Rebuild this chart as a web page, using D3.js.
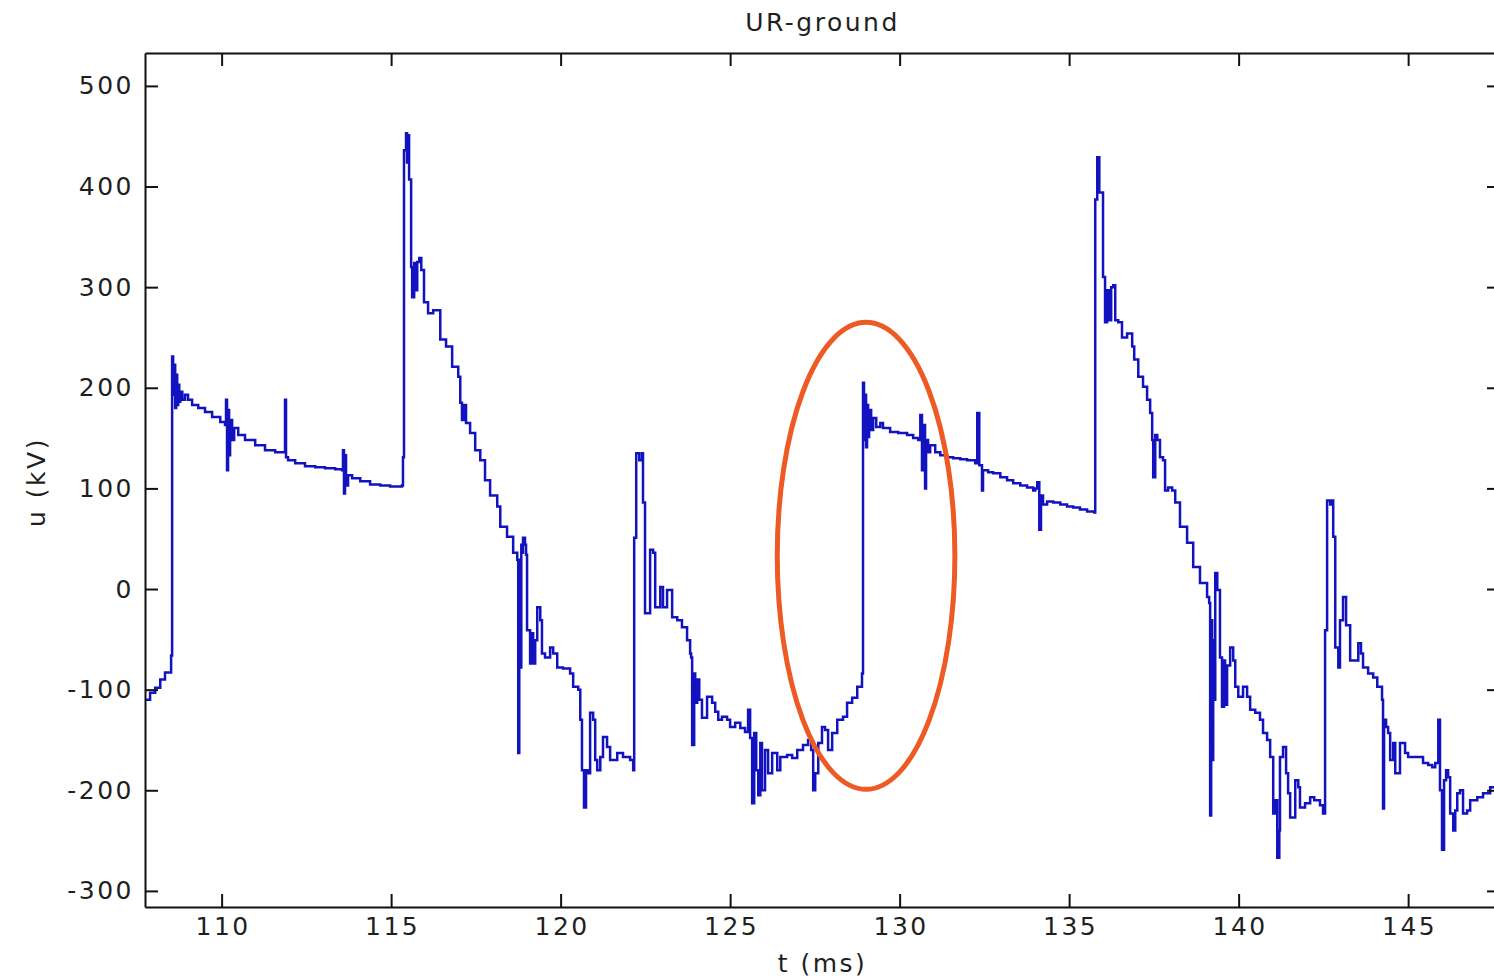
<!DOCTYPE html>
<html>
<head>
<meta charset="utf-8">
<script src="https://cdn.jsdelivr.net/npm/d3@7"></script>
<style>
  html, body { margin: 0; padding: 0; background: #fff; }
  svg { display: block; }
  text { font-family: "DejaVu Sans", sans-serif; fill: #1f1f1f; letter-spacing: 2.5px; }
</style>
</head>
<body>
<svg id="chart" width="1494" height="979"></svg>
<script>
// Phase-to-ground voltage of phase R, sampled trace
const tMs = [
  107.74,107.89,108.04,108.19,108.33,108.51,108.54,108.57,108.60,108.63,108.66,108.69,108.72,108.75,108.78,108.84,108.92,109.01,109.13,109.31,
  109.51,109.72,109.96,110.10,110.13,110.16,110.19,110.22,110.25,110.31,110.37,110.49,110.69,110.99,111.28,111.58,111.81,111.87,111.90,111.96,
  112.17,112.46,112.76,113.05,113.35,113.55,113.58,113.61,113.64,113.67,113.73,113.85,114.09,114.38,114.68,114.97,115.32,115.35,115.38,115.44,
  115.47,115.50,115.53,115.59,115.62,115.68,115.71,115.77,115.83,115.89,115.97,116.09,116.24,116.45,116.62,116.80,116.98,117.04,117.09,117.15,
  117.21,117.33,117.48,117.63,117.77,117.92,118.13,118.22,118.42,118.60,118.72,118.75,118.78,118.81,118.84,118.86,118.89,118.95,118.98,119.01,
  119.10,119.13,119.19,119.25,119.31,119.40,119.45,119.54,119.69,119.78,119.90,120.07,120.28,120.37,120.52,120.58,120.63,120.69,120.75,120.81,
  120.87,120.96,121.02,121.08,121.17,121.25,121.37,121.46,121.67,121.84,122.05,122.14,122.17,122.23,122.32,122.40,122.43,122.49,122.64,122.73,
  122.79,122.94,123.02,123.14,123.29,123.44,123.58,123.73,123.82,123.85,123.88,123.94,123.97,124.03,124.09,124.17,124.32,124.47,124.56,124.65,
  124.76,124.91,125.00,125.15,125.30,125.44,125.53,125.59,125.65,125.71,125.77,125.83,125.89,125.94,126.03,126.12,126.24,126.39,126.48,126.68,
  126.83,126.98,127.15,127.30,127.39,127.45,127.51,127.60,127.71,127.80,127.89,128.01,128.16,128.33,128.45,128.60,128.75,128.89,128.92,128.95,
  128.98,129.01,129.04,129.07,129.10,129.16,129.22,129.31,129.43,129.51,129.72,129.96,130.22,130.40,130.55,130.61,130.66,130.69,130.75,130.78,
  130.84,130.90,131.05,131.20,131.40,131.58,131.79,131.99,132.23,132.29,132.35,132.43,132.46,132.61,132.76,132.97,133.17,133.35,133.56,133.76,
  133.94,134.00,134.06,134.12,134.17,134.23,134.35,134.53,134.74,134.94,135.12,135.32,135.53,135.74,135.77,135.83,135.89,136.00,136.06,136.12,
  136.18,136.24,136.30,136.36,136.45,136.56,136.71,136.86,136.92,137.04,137.18,137.30,137.39,137.45,137.48,137.54,137.60,137.68,137.77,137.83,
  137.92,138.04,138.13,138.27,138.48,138.66,138.86,139.07,139.13,139.16,139.19,139.22,139.25,139.28,139.31,139.37,139.45,139.51,139.57,139.60,
  139.66,139.75,139.84,139.90,139.99,140.13,140.25,140.34,140.49,140.63,140.72,140.84,140.93,141.02,141.08,141.14,141.20,141.22,141.31,141.40,
  141.46,141.52,141.67,141.76,141.81,141.96,142.11,142.23,142.40,142.49,142.55,142.61,142.70,142.76,142.79,142.85,142.94,142.99,143.08,143.17,
  143.29,143.53,143.61,143.67,143.82,143.97,144.09,144.23,144.26,144.29,144.35,144.41,144.47,144.56,144.62,144.76,144.91,145.00,145.30,145.44,
  145.59,145.71,145.80,145.89,145.94,146.00,146.06,146.12,146.18,146.24,146.33,146.39,146.45,146.53,146.62,146.74,146.83,147.04,147.21,147.42,
  147.71
];
const uKv = [
  -110,-103,-98,-90,-83,-66,231,193,223,180,213,183,203,186,196,188,193,188,183,180,
  176,171,166,163,188,118,178,133,168,148,160,153,148,143,138,136,136,188,131,128,
  125,122,121,120,119,118,138,95,133,103,113,110,107,104,103,102,103,131,436,453,
  424,451,407,320,290,324,297,325,329,317,285,274,277,248,241,221,211,185,168,183,
  165,155,138,128,108,93,82,62,52,36,29,-163,29,-78,44,36,51,44,34,-41,
  -74,-44,-74,-51,-18,-31,-64,-68,-58,-64,-78,-79,-84,-97,-100,-130,-180,-217,-180,-183,
  -123,-130,-170,-180,-167,-147,-157,-170,-163,-167,-170,-180,51,135,128,135,86,-24,39,36,
  -18,2,-18,-1,-28,-31,-38,-51,-64,-68,-155,-84,-113,-90,-110,-128,-107,-113,-122,-130,
  -127,-130,-137,-133,-138,-142,-120,-148,-213,-143,-180,-205,-153,-200,-160,-183,-163,-180,-167,-165,
  -168,-160,-155,-150,-160,-200,-183,-153,-137,-140,-160,-143,-130,-127,-113,-108,-97,-84,205,148,
  193,141,183,151,178,158,170,161,165,160,156,155,153,150,148,173,118,163,100,148,
  136,143,136,133,131,130,129,128,125,175,123,98,118,116,115,111,108,105,103,101,
  98,100,106,59,93,84,87,86,84,82,81,79,77,76,387,429,394,310,265,297,
  267,300,302,267,265,250,254,241,228,211,201,188,175,148,111,153,148,131,128,98,
  101,98,86,62,46,22,6,-8,-14,-225,-31,-170,-51,-110,16,-1,-68,-117,-71,-115,
  -76,-58,-71,-97,-107,-97,-107,-120,-123,-130,-143,-150,-167,-223,-210,-267,-240,-167,-157,-183,
  -203,-227,-190,-197,-217,-213,-207,-210,-215,-223,-41,88,84,88,52,-58,-78,-31,-8,-36,
  -71,-54,-64,-78,-84,-88,-97,-110,-218,-130,-137,-143,-170,-153,-183,-153,-163,-167,-167,-173,
  -175,-177,-173,-130,-200,-259,-190,-180,-187,-223,-240,-220,-203,-200,-223,-220,-210,-207,-203,-197,
  -190
];

const xTicks = [110, 115, 120, 125, 130, 135, 140, 145];
const yTicks = [-300, -200, -100, 0, 100, 200, 300, 400, 500];

// Highlighted switching instant: ellipse centre / radii in ms and kV
const markCentre = [129.01, 33];
const markRadii = [2.62, 232];

const plot = { left: 145, right: 1500, top: 53, bottom: 907 };
const svg = d3.select("#chart");

const x = d3.scaleLinear().domain([107.74, 147.71]).range([plot.left, plot.right]);
const y = d3.scaleLinear().domain([-316, 532.7]).range([plot.bottom, plot.top]);

svg.append("rect").attr("width", 1494).attr("height", 979).attr("fill", "#fff");

svg.append("clipPath").attr("id", "plotClip")
  .append("rect")
  .attr("x", plot.left).attr("y", plot.top)
  .attr("width", plot.right - plot.left).attr("height", plot.bottom - plot.top);

// Trace
const samples = tMs.map((t, i) => [t, uKv[i]]);
const line = d3.line()
  .x(d => x(d[0]))
  .y(d => y(d[1]))
  .curve(d3.curveStepAfter);

svg.append("path")
  .datum(samples)
  .attr("clip-path", "url(#plotClip)")
  .attr("fill", "none")
  .attr("stroke", "#1212c0")
  .attr("stroke-width", 2.5)
  .attr("stroke-linejoin", "miter")
  .attr("d", line);

// Axes box with inward ticks on all four sides
const tickLen = 13;
const plain = d => String(d);
const styleAxis = g => {
  g.selectAll(".domain").attr("stroke", "#111").attr("stroke-width", 2);
  g.selectAll(".tick line").attr("stroke", "#111").attr("stroke-width", 2);
  g.selectAll(".tick text").style("font-size", "25px").attr("fill", "#1f1f1f");
};

svg.append("g")
  .attr("transform", `translate(0,${plot.bottom})`)
  .call(d3.axisBottom(x).tickValues(xTicks).tickFormat(plain).tickSizeInner(-tickLen).tickSizeOuter(0).tickPadding(10))
  .call(styleAxis)
  .call(g => g.selectAll(".tick text").attr("dx", "1px"));

svg.append("g")
  .attr("transform", `translate(0,${plot.top})`)
  .call(d3.axisTop(x).tickValues(xTicks).tickSizeInner(-tickLen).tickSizeOuter(0).tickFormat(""))
  .call(styleAxis);

svg.append("g")
  .attr("transform", `translate(${plot.left},0)`)
  .call(d3.axisLeft(y).tickValues(yTicks).tickFormat(plain).tickSizeInner(-tickLen).tickSizeOuter(0).tickPadding(11))
  .call(styleAxis);

svg.append("g")
  .attr("transform", `translate(${plot.right},0)`)
  .call(d3.axisRight(y).tickValues(yTicks).tickSizeInner(-tickLen).tickSizeOuter(0).tickFormat(""))
  .call(styleAxis);

// Ellipse marking the re-strike
svg.append("ellipse")
  .attr("cx", x(markCentre[0]))
  .attr("cy", y(markCentre[1]))
  .attr("rx", x(markCentre[0] + markRadii[0]) - x(markCentre[0]))
  .attr("ry", y(markCentre[1]) - y(markCentre[1] + markRadii[1]))
  .attr("fill", "none")
  .attr("stroke", "#ee5a24")
  .attr("stroke-width", 5);

// Titles
const midX = (plot.left + plot.right) / 2;
svg.append("text")
  .attr("x", midX).attr("y", 31)
  .attr("text-anchor", "middle")
  .style("font-size", "25px")
  .text("UR-ground");

svg.append("text")
  .attr("x", midX).attr("y", 972)
  .attr("text-anchor", "middle")
  .style("font-size", "25px")
  .text("t (ms)");

svg.append("text")
  .attr("transform", `translate(45,482) rotate(-90)`)
  .attr("text-anchor", "middle")
  .style("font-size", "25px")
  .text("u (kV)");
</script>
</body>
</html>
